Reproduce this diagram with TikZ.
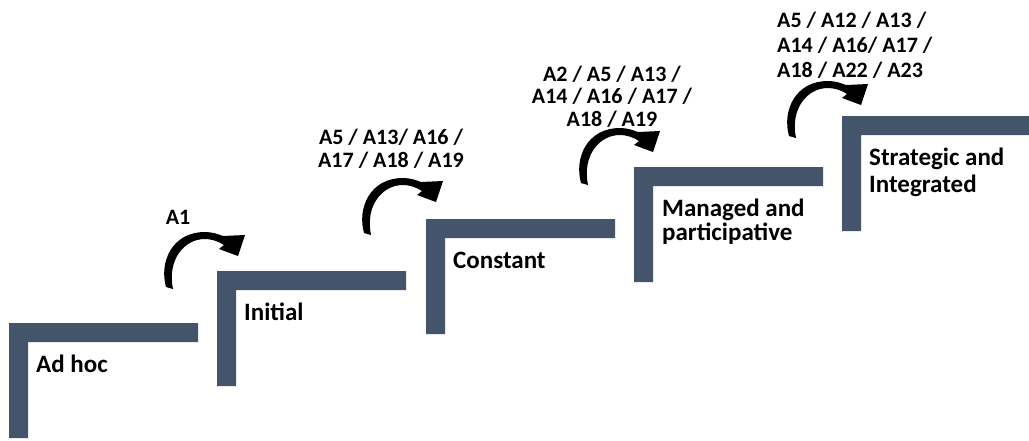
\documentclass[tikz,border=0pt]{standalone}
\usepackage{fontspec}
\setmainfont{Carlito}
\definecolor{stepcol}{HTML}{44546A}
\tikzset{
  turnarrow/.pic={
    \fill[black] (166,287) .. controls (159,262) and (172,232) .. (205,232)
      .. controls (212,232) and (218,234) .. (223,236)
      -- (245,235) -- (238,256) -- (219,249) -- (224,245)
      .. controls (218,241) and (211,239) .. (205,239)
      .. controls (184,239) and (167,260) .. (173,289) -- cycle;
  }
}
\begin{document}
\begin{tikzpicture}[x=1pt,y=-1pt,
  stagelbl/.style={font=\fontsize{25}{24}\selectfont\bfseries, inner sep=0pt, align=left, anchor=base west},
  actlbl/.style={font=\fontsize{22}{25}\selectfont\bfseries, inner sep=0pt, anchor=base},
  stair/.style={fill=stepcol}]
\useasboundingbox (0,0) rectangle (1029,440);
\fill[white] (0,0) rectangle (1029,440);
\foreach \x/\y in {9/323, 217/271, 426/219, 634/167, 842/116}{
  \fill[stair] (\x,\y) -- ++(189,0) -- ++(0,19) -- ++(-170,0) -- ++(0,96) -- ++(-19,0) -- cycle;
}
\pic at (0,0) {turnarrow};
\pic at (198,-54) {turnarrow};
\pic at (415,-104) {turnarrow};
\pic at (623,-151) {turnarrow};
\node[stagelbl] (adhoc) at (36,372) {Ad hoc};
\node[stagelbl] (initial) at (244,320) {Initial};
\node[stagelbl] (constant) at (453,268) {Constant};
\node[stagelbl] (managed) at (662,240) {Managed and\\participative};
\node[stagelbl, font=\fontsize{25}{27}\selectfont\bfseries] (strategic) at (869,192) {Strategic and\\Integrated};
\node[actlbl] (a1) at (178,224) {A1};
\node[actlbl, align=center, font=\fontsize{22}{23}\selectfont\bfseries] (a2) at (391,167) {A5 / A13/ A16 /\\A17 / A18 / A19};
\node[actlbl, align=center, font=\fontsize{22}{22.5}\selectfont\bfseries] (a3) at (612,126) {A2 / A5 / A13 /\\A14 / A16 / A17 /\\A18 / A19};
\node[actlbl, align=left, anchor=base west] (a4) at (777,77) {A5 / A12 / A13 /\\A14 / A16/ A17 /\\A18 / A22 / A23};
\end{tikzpicture}
\end{document}
